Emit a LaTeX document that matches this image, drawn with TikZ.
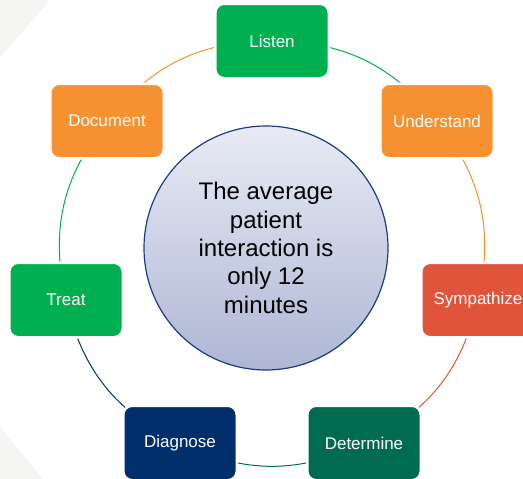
\documentclass[tikz,border=0pt]{standalone}
\usepackage{fontspec}
\setmainfont{Liberation Sans}
\usetikzlibrary{backgrounds}
\definecolor{cgreen}{RGB}{0,176,80}
\definecolor{corange}{RGB}{246,145,50}
\definecolor{cred}{RGB}{225,84,60}
\definecolor{cdkgreen}{RGB}{0,107,80}
\definecolor{cblue}{RGB}{0,47,108}
\definecolor{cring}{RGB}{31,60,122}
\definecolor{cbg}{RGB}{245,245,243}
\definecolor{ctop}{RGB}{232,235,245}
\definecolor{cbot}{RGB}{174,182,212}
\begin{document}
\begin{tikzpicture}[x=1pt,y=1pt,
  stepbox/.style={rounded corners=9pt,minimum width=113.5pt,minimum height=74.5pt,
    inner sep=0pt,text=white,draw=white,line width=2.5pt,font=\fontsize{17}{20}\selectfont},
  ringarc/.style={line width=1pt}]
\useasboundingbox (0,0) rectangle (523,-479);
\clip (0,0) rectangle (523,-479);
\node[stepbox,fill=cgreen] (listen) at (272,-41) {Listen};
\node[stepbox,fill=corange] (underst) at (437,-121) {Understand};
\node[stepbox,fill=cred] (symp) at (478,-300) {Sympathize};
\node[stepbox,fill=cdkgreen] (determ) at (364,-443) {Determine};
\node[stepbox,fill=cblue] (diag) at (180,-443) {Diagnose};
\node[stepbox,fill=cgreen] (treat) at (66,-300) {Treat};
\node[stepbox,fill=corange] (docu) at (107,-121) {Document};
\begin{scope}[on background layer]
\fill[cbg] (0,0) -- (50,0) -- (0,-58) -- cycle;
\fill[cbg] (0,-427) -- (43,-479) -- (0,-479) -- cycle;
\draw[ringarc,cgreen] (listen.center) to[bend left=25.7] (underst.center);
\draw[ringarc,corange] (underst.center) to[bend left=25.7] (symp.center);
\draw[ringarc,cred] (symp.center) to[bend left=25.7] (determ.center);
\draw[ringarc,cdkgreen] (determ.center) to[bend left=25.7] (diag.center);
\draw[ringarc,cblue] (diag.center) to[bend left=25.7] (treat.center);
\draw[ringarc,cgreen] (treat.center) to[bend left=25.7] (docu.center);
\draw[ringarc,corange] (docu.center) to[bend left=25.7] (listen.center);
\end{scope}
\node[circle,minimum size=244pt,inner sep=0pt,draw=cring,line width=1.2pt,
  top color=ctop,bottom color=cbot,align=center,
  font=\fontsize{24}{28.3}\selectfont] (hub) at (266,-248)
  {The average\\patient\\interaction is\\only 12\\minutes};
\end{tikzpicture}
\end{document}
